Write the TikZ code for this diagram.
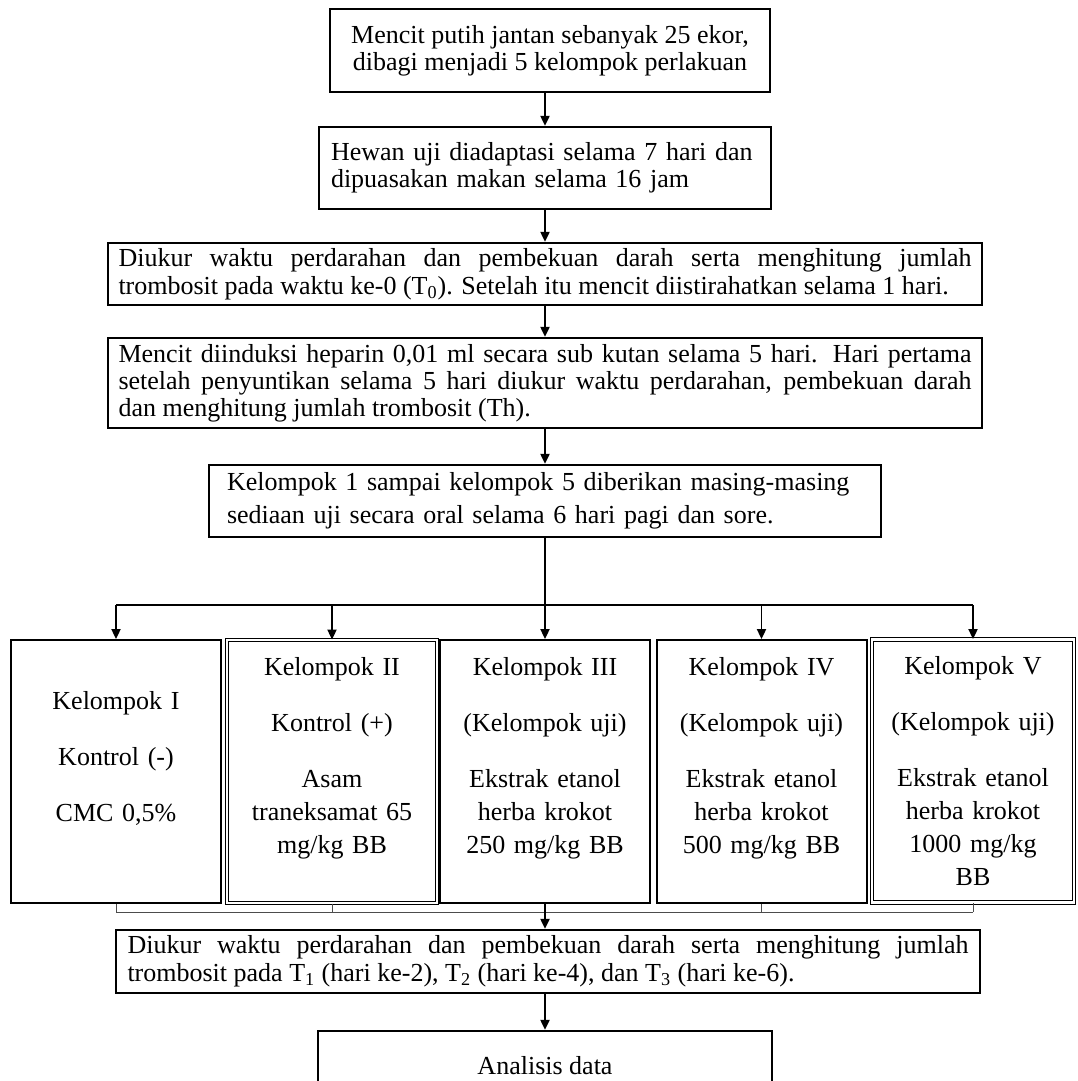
\documentclass[tikz,border=0pt]{standalone}
\usepackage{fontspec}
\setmainfont{Liberation Serif}
\usepackage{tikz}
\usetikzlibrary{arrows.meta,positioning}
\tikzset{
  box/.style={draw,line width=1.2pt,inner sep=0pt,font=\fontsize{13}{14}\selectfont},
  grp/.style={draw,line width=1pt,minimum width=105pt,minimum height=131.5pt,inner sep=0pt},
  grpdbl/.style={grp,line width=0.5pt,double,double distance=1.1pt},
  grptext/.style={align=center,text width=100pt,inner sep=0pt,font=\fontsize{13}{16.5}\selectfont},
  arrow/.style={-{Triangle[length=5pt,width=4.6pt]},line width=0.8pt},
  link/.style={line width=0.6pt},
  tick/.style={line width=0.5pt,draw=black!70}
}

\begin{document}
\begin{tikzpicture}[x=0.5pt,y=-0.5pt]
  \useasboundingbox (0,0) rectangle (1077,1081);
  \node[box,minimum width=220pt,minimum height=41.5pt,align=center,
    font=\fontsize{13}{13.5}\selectfont] (mencit) at (550,50.5)
    {Mencit putih jantan sebanyak 25 ekor,\\dibagi menjadi 5 kelompok perlakuan};
  \node[box,text width=214pt,inner xsep=6pt,minimum height=41pt,align=left,
    font=\fontsize{13}{13.5}\selectfont] (hewan) at (545,168)
    {Hewan uji diadaptasi selama 7 hari dan\\dipuasakan makan selama 16 jam};
  \node[box,text width=426.5pt,inner xsep=5.25pt,minimum height=31pt,align=justify] (nol) at (545,274)
    {Diukur waktu perdarahan dan pembekuan darah serta menghitung jumlah\linebreak
     trombosit pada waktu ke-0 (T\textsubscript{0}). Setelah itu mencit diistirahatkan selama 1 hari.};
  \node[box,text width=426.5pt,inner xsep=5.25pt,minimum height=45pt,align=justify,
    font=\fontsize{13}{13.5}\selectfont] (induksi) at (545,383)
    {Mencit diinduksi heparin 0,01 ml secara sub kutan selama 5 hari. Hari pertama\linebreak
     setelah penyuntikan selama 5 hari diukur waktu perdarahan, pembekuan darah\linebreak
     dan menghitung jumlah trombosit (Th).};
  \node[box,text width=318pt,inner xsep=9pt,minimum height=36pt,align=left,
    font=\fontsize{13}{16.5}\selectfont] (sediaan) at (545,501)
    {Kelompok 1 sampai kelompok 5 diberikan masing-masing\\sediaan uji secara oral selama 6 hari pagi dan sore.};

  \node[grp] (k1) at (116,771.5) {};
  \node[grpdbl] (k2) at (332,771.5) {};
  \node[grp] (k3) at (545,771.5) {};
  \node[grp] (k4) at (761.5,771.5) {};
  \node[grpdbl,minimum width=101pt] (k5) at (973,771) {};

  \node[grptext,anchor=north] (t1) at ([yshift=-26pt]k1.north)
    {Kelompok I\\[11.5pt]Kontrol (-)\\[11.5pt]CMC 0,5\%};
  \node[grptext,anchor=north] (t2) at ([yshift=-9pt]k2.north)
    {Kelompok II\\[11.5pt]Kontrol (+)\\[11.5pt]Asam\\traneksamat 65\\mg/kg BB};
  \node[grptext,anchor=north] (t3) at ([yshift=-9pt]k3.north)
    {Kelompok III\\[11.5pt](Kelompok uji)\\[11.5pt]Ekstrak etanol\\herba krokot\\250 mg/kg BB};
  \node[grptext,anchor=north] (t4) at ([yshift=-9pt]k4.north)
    {Kelompok IV\\[11.5pt](Kelompok uji)\\[11.5pt]Ekstrak etanol\\herba krokot\\500 mg/kg BB};
  \node[grptext,anchor=north] (t5) at ([yshift=-8.5pt]k5.north)
    {Kelompok V\\[11.5pt](Kelompok uji)\\[11.5pt]Ekstrak etanol\\herba krokot\\1000 mg/kg\\BB};

  \node[box,text width=420.5pt,inner xsep=5.75pt,minimum height=31.5pt,align=justify] (ukur) at (548,961.5)
    {Diukur waktu perdarahan dan pembekuan darah serta menghitung jumlah\linebreak
     trombosit pada T\textsubscript{1} (hari ke-2), T\textsubscript{2} (hari ke-4), dan T\textsubscript{3} (hari ke-6).};
  \node[box,minimum width=227pt,minimum height=35pt,align=center] (analisis) at (545,1066) {Analisis data};

  \coordinate (split) at (545,605);
  \coordinate (join) at (545,912);

  \draw[arrow] (mencit.south -| hewan) -- (hewan);
  \draw[arrow] (hewan) -- (nol);
  \draw[arrow] (nol) -- (induksi);
  \draw[arrow] (induksi) -- (sediaan);
  \draw[arrow] (sediaan) -- (k3);
  \draw[link] (k1.north |- split) -- (k5.north |- split);
  \foreach \k in {k1,k2,k4,k5}
    \draw[arrow] (\k.north |- split) -- (\k.north);
  \foreach \k in {k1,k2,k4,k5}
    \draw[tick] (\k.south) -- (\k.south |- join);
  \draw[tick] (k1.south |- join) -- (k5.south |- join);
  \draw[arrow] (k3) -- (k3 |- ukur.north);
  \draw[arrow] (ukur.south -| analisis) -- (analisis);
\end{tikzpicture}
\end{document}
